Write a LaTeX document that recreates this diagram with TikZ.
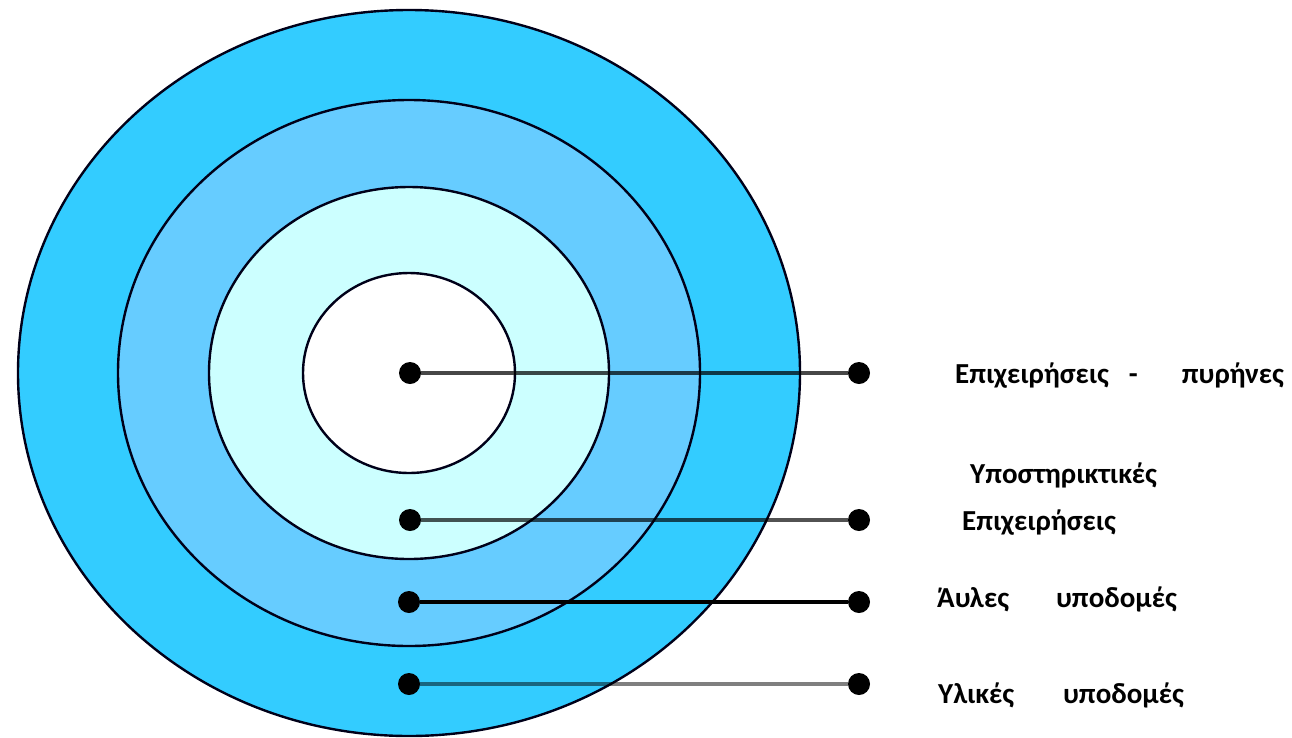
\documentclass[tikz,border=0pt]{standalone}
\usepackage{fontspec}
\setmainfont{Carlito}
\definecolor{ringA}{RGB}{51,204,255}
\definecolor{ringB}{RGB}{102,204,255}
\definecolor{ringC}{RGB}{204,255,255}
\begin{document}
\begin{tikzpicture}[x=1pt,y=-1pt,
  ring/.style={draw=black!90!blue,line width=2.4pt},
  dot/.style={circle,fill=black,inner sep=0pt,minimum size=22pt},
  lbl/.style={anchor=base west,inner sep=0pt,font=\fontsize{29}{33}\selectfont\bfseries},
  conn/.style={draw=black,line width=3.2pt}]
\useasboundingbox (0,0) rectangle (1292,737);
\fill[white] (0,0) rectangle (1292,737);
\coordinate (ctr) at (409,373);
\path[ring,fill=ringA] (ctr) ellipse [x radius=391pt,y radius=363pt];
\path[ring,fill=ringB] (ctr) ellipse [x radius=291pt,y radius=273pt];
\path[ring,fill=ringC] (ctr) ellipse [x radius=200pt,y radius=186pt];
\path[ring,fill=white] (ctr) ellipse [x radius=106pt,y radius=100pt];
% dots
\node[dot] (a1) at (410,373) {};
\node[dot] (b1) at (859,373) {};
\node[dot] (a2) at (410,520) {};
\node[dot] (b2) at (859,520) {};
\node[dot] (a3) at (409,602) {};
\node[dot] (b3) at (859,602) {};
\node[dot] (a4) at (409,684) {};
\node[dot] (b4) at (859,684) {};
% connectors
\draw[conn,draw opacity=0.72] (a1) -- (b1);
\draw[conn,draw opacity=0.68] (a2) -- (b2);
\draw[conn,line width=3.2pt] (a3) -- (b3);
\draw[conn,line width=4.4pt,draw opacity=0.5] (a4) -- (b4);
% labels
\node[lbl] (t1) at (955,383) {Επιχειρήσεις\hspace{20pt}-\hspace{44pt}πυρήνες};
\node[lbl] (t2) at (970,483) {Υποστηρικτικές};
\node[lbl] (t3) at (962,530) {Επιχειρήσεις};
\node[lbl] (t4) at (937,607) {Άυλες\hspace{47pt}υποδομές};
\node[lbl] (t5) at (938,703) {Υλικές\hspace{49pt}υποδομές};
\end{tikzpicture}
\end{document}
